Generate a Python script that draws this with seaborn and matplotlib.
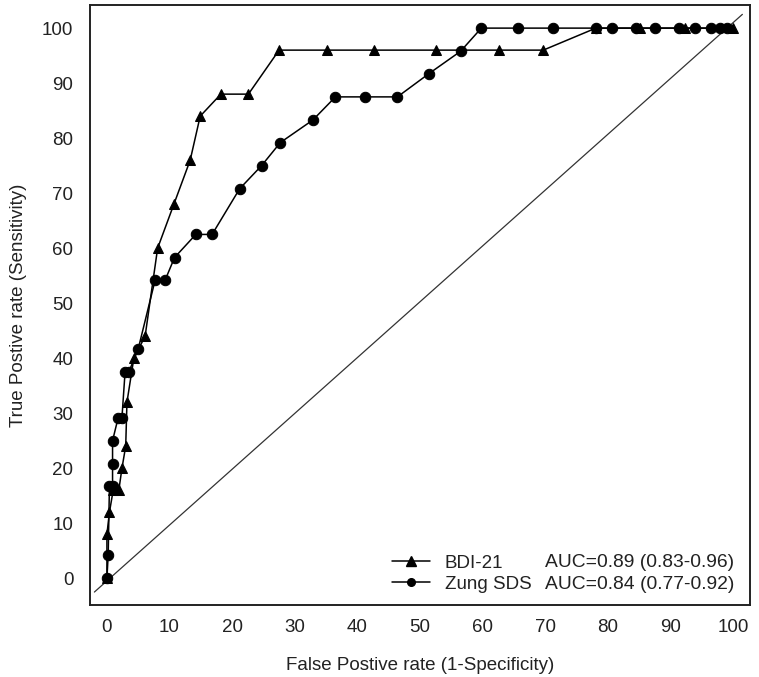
import matplotlib
matplotlib.use("Agg")
import matplotlib.pyplot as plt
import seaborn as sns
import pandas as pd
from matplotlib.lines import Line2D

sns.set_theme(style="white")
plt.rcParams['font.family'] = ['Liberation Sans', 'DejaVu Sans']

# BDI-21 ROC points (FPR %, TPR %)
bdi_fpr = [0, 0, 0.4, 1.0, 1.9, 2.4, 3.0, 3.2, 4.3, 6.1, 8.1, 10.7, 13.3, 14.9,
           18.2, 22.6, 27.5, 35.1, 42.7, 52.5, 62.6, 69.7, 78.1, 85.1, 92.3, 100]
bdi_tpr = [0, 8, 12, 16, 16, 20, 24, 32, 40, 44, 60, 68, 76, 84,
           88, 88, 96, 96, 96, 96, 96, 96, 100, 100, 100, 100]

# Zung SDS ROC points
zung_fpr = [0, 0.2, 0.4, 0.9, 0.9, 0.9, 1.8, 2.4, 2.9, 3.5, 5.0, 7.7, 9.3, 10.8,
            14.2, 16.8, 21.2, 24.7, 27.7, 32.9, 36.5, 41.2, 46.4, 51.4, 56.5,
            59.8, 65.6, 71.3, 78.1, 80.7, 84.5, 87.5, 91.4, 93.9, 96.5, 98.0, 99.0]
zung_tpr = [0, 4.2, 16.7, 16.7, 20.8, 25, 29.2, 29.2, 37.5, 37.5, 41.7, 54.2, 54.2, 58.3,
            62.5, 62.5, 70.8, 75, 79.2, 83.3, 87.5, 87.5, 87.5, 91.7, 95.8,
            100, 100, 100, 100, 100, 100, 100, 100, 100, 100, 100, 100]

series_names = ["BDI-21", "Zung SDS"]
auc_labels = ["AUC=0.89 (0.83-0.96)", "AUC=0.84 (0.77-0.92)"]
ticks = [0, 10, 20, 30, 40, 50, 60, 70, 80, 90, 100]

df = pd.concat([
    pd.DataFrame({"fpr": bdi_fpr, "tpr": bdi_tpr, "test": series_names[0]}),
    pd.DataFrame({"fpr": zung_fpr, "tpr": zung_tpr, "test": series_names[1]}),
], ignore_index=True)

FS = 13.5
TXT = "#222222"

fig = plt.figure(figsize=(7.59, 6.77), dpi=100)
ax = fig.add_axes([0.1186, 0.106, 0.8694, 0.8866])

# chance diagonal
ax.plot([-2, 101.5], [-2.5, 102.5], color="#333333", lw=0.9, zorder=1)

sns.lineplot(data=df, x="fpr", y="tpr", style="test", hue="test",
             palette={series_names[0]: "black", series_names[1]: "black"},
             markers={series_names[0]: "^", series_names[1]: "o"},
             dashes=False, sort=False, estimator=None, markersize=7.5,
             markeredgecolor="black", linewidth=1.1, legend=False, ax=ax, zorder=3)

ax.set_xlim(-2.7, 102.7)
ax.set_ylim(-4.9, 104.2)
ax.set_xticks(ticks)
ax.set_yticks(ticks)
ax.tick_params(axis="both", length=0, labelsize=FS, colors=TXT)
ax.tick_params(axis="x", pad=10)
ax.tick_params(axis="y", pad=12)
for s in ax.spines.values():
    s.set_visible(True)
    s.set_color(TXT)
    s.set_linewidth(1.4)

ax.set_xlabel("False Postive rate (1-Specificity)", fontsize=FS, color=TXT, labelpad=15)
ax.set_ylabel("True Postive rate (Sensitivity)", fontsize=FS, color=TXT, labelpad=11)

handles = [
    Line2D([], [], color="black", marker="^", markersize=7, lw=1.1),
    Line2D([], [], color="black", marker="o", markersize=5.5, lw=1.1),
]
leg = ax.legend(handles, series_names, loc="lower left", bbox_to_anchor=(0.447, 0.008),
                frameon=False, fontsize=FS, handlelength=2.0, handletextpad=0.8,
                labelspacing=0.2, borderaxespad=0)
for t in leg.get_texts():
    t.set_color(TXT)

ax.text(0.689, 0.0717, auc_labels[0], transform=ax.transAxes, fontsize=FS + 0.4,
        color=TXT, va="center", ha="left")
ax.text(0.689, 0.035, auc_labels[1], transform=ax.transAxes, fontsize=FS + 0.4,
        color=TXT, va="center", ha="left")

fig.savefig("out.png", dpi=100)
